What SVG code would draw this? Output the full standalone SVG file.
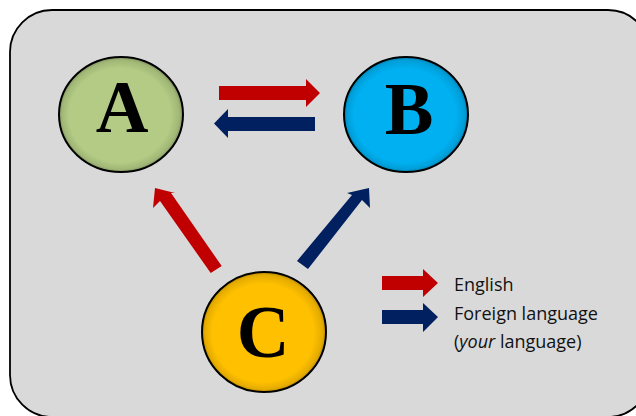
<svg xmlns="http://www.w3.org/2000/svg" width="636" height="416" viewBox="0 0 636 416">
<style>
.node{stroke:#000;stroke-width:2}
.letter{font-family:"Liberation Serif",serif;font-weight:bold;font-size:73px;text-anchor:middle;fill:#000}
.red{fill:#C00000}
.blue{fill:#002060}
.legend{font-family:"Open Sans","Liberation Sans",sans-serif;font-size:18px;fill:#111}
</style>
<defs>
<radialGradient id="gA" cx="50%" cy="50%" r="50%" fx="45%" fy="55%">
<stop offset="0.82" stop-color="#B3CB84"/><stop offset="0.95" stop-color="#A0B676"/><stop offset="1" stop-color="#7F915E"/>
</radialGradient>
<radialGradient id="gB" cx="50%" cy="50%" r="50%" fx="45%" fy="55%">
<stop offset="0.82" stop-color="#00B0F0"/><stop offset="0.95" stop-color="#009ED8"/><stop offset="1" stop-color="#007FAE"/>
</radialGradient>
<radialGradient id="gC" cx="50%" cy="50%" r="50%" fx="45%" fy="55%">
<stop offset="0.82" stop-color="#FFC000"/><stop offset="0.95" stop-color="#E5AC00"/><stop offset="1" stop-color="#B88A00"/>
</radialGradient>
</defs>
<rect x="10" y="10" width="640" height="407" rx="42" ry="42" fill="#D9D9D9" stroke="#000" stroke-width="1.8"/>
<g id="connectors">
<polygon class="red" points="219,86 306,86 306,79 320,93 306,107 306,100 219,100"/>
<polygon class="blue" points="315,117 228,117 228,109 214,123.5 228,138 228,131 315,131"/>
<polygon class="red" points="210.7,273 221.7,266 171,193 175,193 155,188 153,208 160,201"/>
<polygon class="blue" points="297,261 308,269 362,200 370,208 369,188 347,193 352,195"/>
</g>
<g id="A">
<ellipse class="node" cx="121" cy="114.5" rx="62" ry="57.5" fill="url(#gA)"/>
<text class="letter" x="122" y="132">A</text>
</g>
<g id="B">
<ellipse class="node" cx="406" cy="114.5" rx="62" ry="57.5" fill="url(#gB)"/>
<text class="letter" x="409" y="134">B</text>
</g>
<g id="C">
<ellipse class="node" cx="264" cy="332" rx="62" ry="60" fill="url(#gC)"/>
<text class="letter" x="263" y="357">C</text>
</g>
<g id="legend">
<polygon class="red" points="382,276 423,276 423,269 438,283 423,297 423,290 382,290"/>
<polygon class="blue" points="382,310 423,310 423,303 438,317 423,332 423,324 382,324"/>
<text class="legend" x="454" y="291">English</text>
<text class="legend" x="454" y="320">Foreign language</text>
<text class="legend" x="454" y="348">(<tspan font-style="italic">your</tspan> language)</text>
</g>
</svg>
